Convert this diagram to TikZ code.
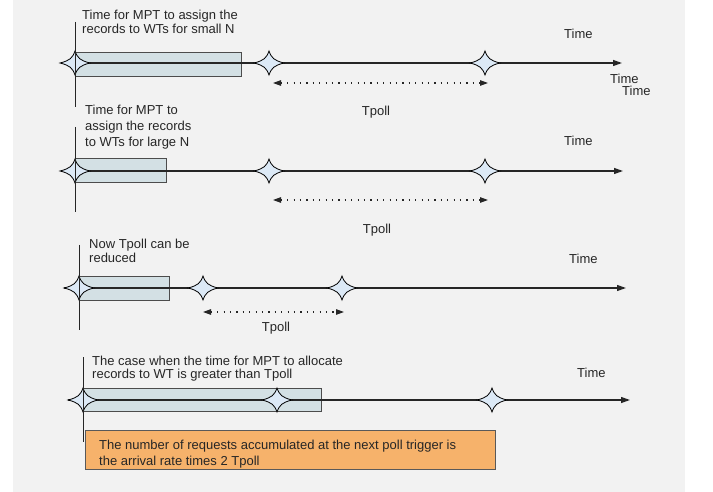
\documentclass[tikz,border=0pt]{standalone}
\usepackage{fontspec}
\setmainfont{Liberation Sans}
\usetikzlibrary{arrows.meta}
\definecolor{panel}{HTML}{F2F2F2}
\definecolor{taskfill}{HTML}{D3E0E4}
\definecolor{sparkfill}{HTML}{DCE9F6}
\definecolor{notefill}{HTML}{F6B26B}
\tikzset{
  sparkle/.pic={
    \draw[fill=sparkfill, line width=0.8pt]
      (15,0) .. controls (5,2.5) and (2.5,5) .. (0,12)
      .. controls (-2.5,5) and (-5,2.5) .. (-15,0)
      .. controls (-5,-2.5) and (-2.5,-5) .. (0,-12)
      .. controls (2.5,-5) and (5,-2.5) .. cycle;
  },
  axis/.style={line width=1.2pt, draw=black!85, -{Triangle[length=9pt,width=6pt]}},
  marker/.style={line width=0.9pt, draw=black!85},
  taskbox/.style={draw=black!70, fill=taskfill, line width=0.8pt},
  span/.style={line width=1.1pt, draw=black!85, dash pattern=on 1.2pt off 5.2pt,
    {Triangle[length=8pt,width=5.5pt]}-{Triangle[length=8pt,width=5.5pt]}},
  lbl/.style={font=\fontsize{13}{14}\selectfont, inner sep=0pt, align=left, text=black!85},
  notebox/.style={draw=black!65, fill=notefill, line width=0.8pt, inner sep=0pt, anchor=north west,
    minimum width=410pt, minimum height=39pt},
}
\begin{document}
\begin{tikzpicture}[x=1pt, y=-1pt]
  % canvas and grey panel
  \useasboundingbox (0,0) rectangle (713,492);
  \fill[white] (0,0) rectangle (713,492);
  \fill[panel] (13,0) rectangle (685,492);

  % ---------- timeline 1: small N ----------
  \coordinate (b1a) at (75,52);  \coordinate (b1b) at (241,76);
  \draw[taskbox] (b1a) rectangle (b1b);
  \coordinate (t1s) at (61,63);  \coordinate (t1e) at (622,63);
  \draw[axis] (t1s) -- (t1e);
  \coordinate (p1a) at (75,63);  \coordinate (p1b) at (269,63);  \coordinate (p1c) at (485,63);
  \pic at (p1a) {sparkle}; \pic at (p1b) {sparkle}; \pic at (p1c) {sparkle};
  \coordinate (v1t) at (75,22);  \coordinate (v1b) at (75,107);
  \draw[marker] (v1t) -- (v1b);
  \coordinate (d1a) at (273,83); \coordinate (d1b) at (488,83);
  \draw[span] (d1a) -- (d1b);
  \node[lbl, anchor=north west] (txt1) at (82,9.6)
    {Time for MPT to assign the\\records to WTs for small N};
  \node[lbl, anchor=base] (tp1) at (376,116) {Tpoll};
  \node[lbl, anchor=base west] (tm1) at (564,39) {Time};
  \node[lbl, anchor=base west] (tm1b) at (610,84) {Time};
  \node[lbl, anchor=base west] (tm1c) at (622,96) {Time};

  % ---------- timeline 2: large N ----------
  \coordinate (b2a) at (75,158);  \coordinate (b2b) at (166,182);
  \draw[taskbox] (b2a) rectangle (b2b);
  \coordinate (t2s) at (61,171);  \coordinate (t2e) at (623,171);
  \draw[axis] (t2s) -- (t2e);
  \coordinate (p2a) at (75,171);  \coordinate (p2b) at (269,171);  \coordinate (p2c) at (485,171);
  \pic at (p2a) {sparkle}; \pic at (p2b) {sparkle}; \pic at (p2c) {sparkle};
  \coordinate (v2t) at (75,127);  \coordinate (v2b) at (75,212);
  \draw[marker] (v2t) -- (v2b);
  \coordinate (d2a) at (273,200); \coordinate (d2b) at (488,200);
  \draw[span] (d2a) -- (d2b);
  \node[lbl, anchor=north west, font=\fontsize{13}{16}\selectfont] (txt2) at (85,104.6)
    {Time for MPT to\\assign the records\\to WTs for large N};
  \node[lbl, anchor=base] (tp2) at (377,234) {Tpoll};
  \node[lbl, anchor=base west] (tm2) at (564,146) {Time};

  % ---------- timeline 3: reduced Tpoll ----------
  \coordinate (b3a) at (79,276);  \coordinate (b3b) at (169,300);
  \draw[taskbox] (b3a) rectangle (b3b);
  \coordinate (t3s) at (64,288);  \coordinate (t3e) at (626,288);
  \draw[axis] (t3s) -- (t3e);
  \coordinate (p3a) at (79,288);  \coordinate (p3b) at (203,288);  \coordinate (p3c) at (342,288);
  \pic at (p3a) {sparkle}; \pic at (p3b) {sparkle}; \pic at (p3c) {sparkle};
  \coordinate (v3t) at (79,245);  \coordinate (v3b) at (79,330);
  \draw[marker] (v3t) -- (v3b);
  \coordinate (d3a) at (203,312); \coordinate (d3b) at (344,312);
  \draw[span] (d3a) -- (d3b);
  \node[lbl, anchor=north west] (txt3) at (89,238.6)
    {Now Tpoll can be\\reduced};
  \node[lbl, anchor=base] (tp3) at (276,331) {Tpoll};
  \node[lbl, anchor=base west] (tm3) at (569,264) {Time};

  % ---------- timeline 4: allocation longer than Tpoll ----------
  \coordinate (b4a) at (83,388);  \coordinate (b4b) at (321,411);
  \draw[taskbox] (b4a) rectangle (b4b);
  \coordinate (t4s) at (68,400);  \coordinate (t4e) at (630,400);
  \draw[axis] (t4s) -- (t4e);
  \coordinate (p4a) at (83,400);  \coordinate (p4b) at (277,400);  \coordinate (p4c) at (492,400);
  \pic at (p4a) {sparkle}; \pic at (p4b) {sparkle}; \pic at (p4c) {sparkle};
  \coordinate (v4t) at (83,357);  \coordinate (v4b) at (83,442);
  \draw[marker] (v4t) -- (v4b);
  \node[lbl, anchor=north west, font=\fontsize{13}{13}\selectfont] (txt4) at (92,355.6)
    {The case when the time for MPT to allocate\\records to WT is greater than Tpoll};
  \node[lbl, anchor=base west] (tm4) at (577,377) {Time};

  % note box
  \node[notebox] (note) at (85,430) {};
  \node[lbl, anchor=north west, font=\fontsize{13}{16}\selectfont] (notetxt) at (99,439.6)
    {The number of requests accumulated at the next poll trigger is\\the arrival rate times 2 Tpoll};
\end{tikzpicture}
\end{document}
